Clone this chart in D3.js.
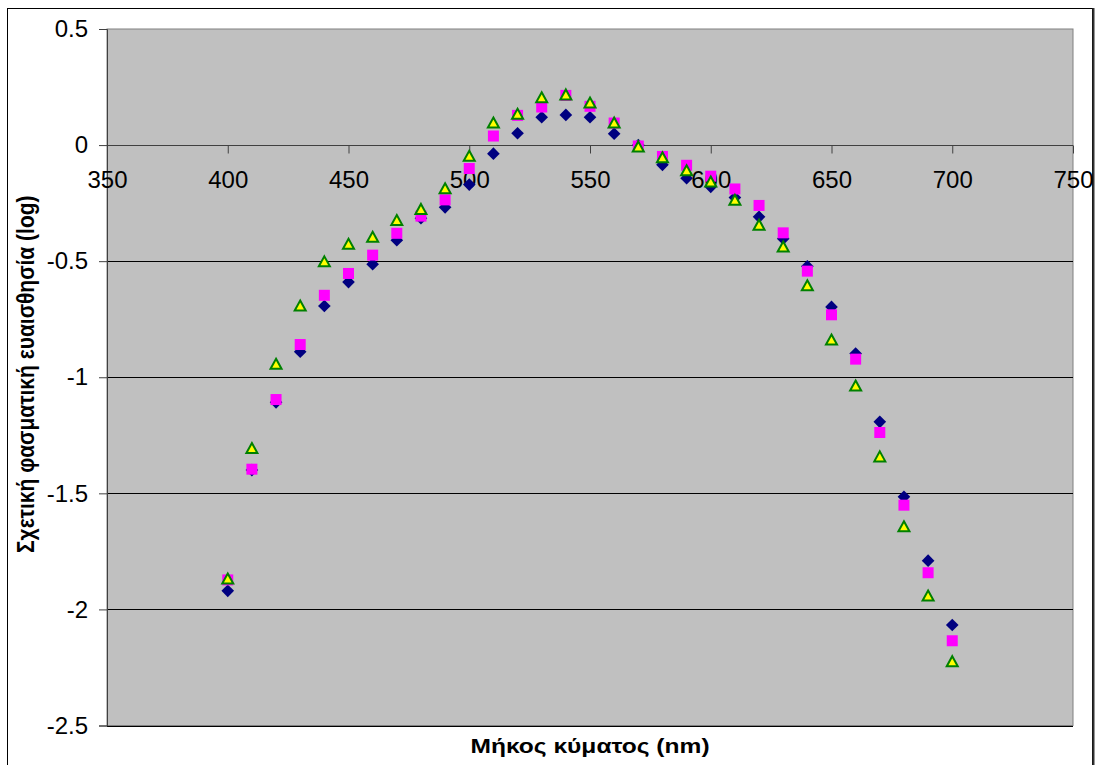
<!DOCTYPE html>
<html>
<head>
<meta charset="utf-8">
<script src="https://cdn.jsdelivr.net/npm/d3@7"></script>
<style>
  html, body { margin: 0; padding: 0; background: #ffffff; }
  svg { display: block; }
  text { font-family: "Liberation Sans", Arial, sans-serif; }
</style>
</head>
<body>
<svg id="chart" width="1097" height="765"></svg>
<script>
// Wavelengths (nm)
const wavelengths = [400,410,420,430,440,450,460,470,480,490,500,510,520,530,540,550,560,570,580,590,600,610,620,630,640,650,660,670,680,690,700];
// Series 1 (navy diamonds)
const seriesDiamond = [-1.92,-1.40,-1.108,-0.89,-0.693,-0.59,-0.513,-0.41,-0.315,-0.268,-0.17,-0.037,0.051,0.12,0.13,0.12,0.049,0.0,-0.085,-0.143,-0.18,-0.226,-0.309,-0.403,-0.522,-0.697,-0.898,-1.192,-1.515,-1.79,-2.067];
// Series 2 (magenta squares)
const seriesSquare = [-1.873,-1.396,-1.096,-0.859,-0.647,-0.553,-0.474,-0.38,-0.306,-0.236,-0.101,0.039,0.128,0.164,0.214,0.167,0.095,-0.004,-0.049,-0.087,-0.134,-0.189,-0.26,-0.378,-0.543,-0.731,-0.922,-1.238,-1.551,-1.842,-2.135];
// Series 3 (yellow triangles)
const seriesTriangle = [-1.869,-1.307,-0.944,-0.693,-0.503,-0.427,-0.397,-0.325,-0.277,-0.188,-0.048,0.095,0.133,0.204,0.216,0.181,0.095,-0.008,-0.055,-0.111,-0.159,-0.238,-0.345,-0.439,-0.606,-0.84,-1.038,-1.343,-1.644,-1.942,-2.225];

const xTicks = [350,400,450,500,550,600,650,700,750];
const yTicks = [0.5,0,-0.5,-1,-1.5,-2,-2.5];
const xTitle = "Μήκος κύματος (nm)";
const yTitle = "Σχετική φασματική ευαισθησία (log)";

const svg = d3.select("#chart");
const L = 107, R = 1073, T = 29, B = 725.5;

const x = d3.scaleLinear().domain([350, 750]).range([L, R]);
const y = d3.scaleLinear().domain([-2.5, 0.5]).range([B, T]);

// outer chart border
svg.append("rect").attr("x", 7.5).attr("y", 8.5).attr("width", 1085).attr("height", 770)
  .attr("fill", "#fff").attr("stroke", "#000").attr("stroke-width", 1);
svg.append("line").attr("x1", 1093.5).attr("x2", 1093.5).attr("y1", 8).attr("y2", 765)
  .attr("stroke", "#333").attr("stroke-width", 2);

// plot area
svg.append("rect").attr("x", L).attr("y", T).attr("width", R - L).attr("height", B - T)
  .attr("fill", "#c0c0c0").attr("stroke", "#808080").attr("stroke-width", 1);

// gridlines
svg.append("g").selectAll("line").data(yTicks.filter(d => d !== 0 && d !== 0.5)).join("line")
  .attr("x1", L).attr("x2", R)
  .attr("y1", d => Math.round(y(d)) + 0.5).attr("y2", d => Math.round(y(d)) + 0.5)
  .attr("stroke", "#000").attr("stroke-width", 1);

// y axis
const yAxis = d3.axisLeft(y).tickValues(yTicks).tickSize(8).tickPadding(11)
  .tickFormat(d => String(d));
const gy = svg.append("g").attr("transform", `translate(${L},0)`).call(yAxis);
gy.select(".domain").attr("stroke", "#404040");
gy.selectAll(".tick line").attr("stroke", "#404040");
gy.selectAll("text").attr("font-size", 24).attr("fill", "#000")
  .attr("font-family", "'Liberation Sans', Arial, sans-serif");

// x axis at y=0
const xAxis = d3.axisBottom(x).tickValues(xTicks).tickSize(8).tickPadding(17)
  .tickFormat(d => String(d));
const gx = svg.append("g").attr("transform", `translate(0,${Math.round(y(0)) + 0.5})`).call(xAxis);
gx.select(".domain").attr("stroke", "#404040").attr("d", `M${L},0H${R}`);
gx.selectAll(".tick line").attr("stroke", "#404040");
gx.selectAll("text").attr("font-size", 24).attr("fill", "#000")
  .attr("font-family", "'Liberation Sans', Arial, sans-serif");

// markers
const diamond = d3.symbol().type(d3.symbolSquare).size(80);
svg.append("g").selectAll("path").data(wavelengths).join("path")
  .attr("d", diamond)
  .attr("transform", (d, i) => `translate(${x(d)},${y(seriesDiamond[i])}) rotate(45)`)
  .attr("fill", "#000080");

svg.append("g").selectAll("rect").data(wavelengths).join("rect")
  .attr("x", d => x(d) - 5.5).attr("y", (d, i) => y(seriesSquare[i]) - 5.5)
  .attr("width", 11).attr("height", 11)
  .attr("fill", "#ff00ff");

svg.append("g").selectAll("path").data(wavelengths).join("path")
  .attr("d", "M0,-5.5L5.5,4.5L-5.5,4.5Z")
  .attr("transform", (d, i) => `translate(${x(d)},${y(seriesTriangle[i])})`)
  .attr("fill", "#ffff00").attr("stroke", "#008000").attr("stroke-width", 2)
  .attr("stroke-linejoin", "miter");

// titles (reference text looks horizontally stretched)
svg.append("text").attr("transform", `translate(${(L + R) / 2},753) scale(1.17,1)`)
  .attr("text-anchor", "middle")
  .attr("font-size", 21).attr("font-weight", "bold").text(xTitle);
svg.append("text").attr("transform", `translate(34,${(T + B) / 2 - 3}) rotate(-90) scale(1,1.17)`)
  .attr("text-anchor", "middle").attr("font-size", 21).attr("font-weight", "bold").text(yTitle);
</script>
</body>
</html>
